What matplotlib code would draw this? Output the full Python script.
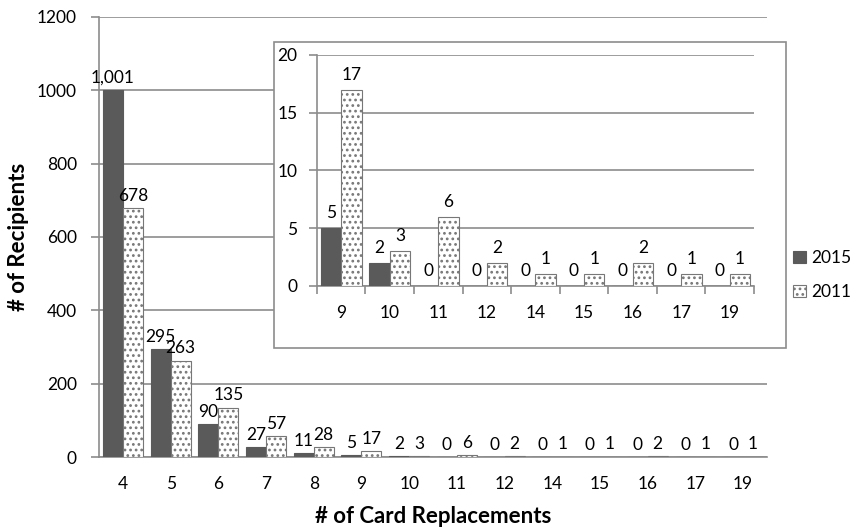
import matplotlib.pyplot as plt
from matplotlib.patches import Rectangle
import numpy as np

plt.rcParams['font.family'] = ['Lato', 'DejaVu Sans']
plt.rcParams['hatch.linewidth'] = 1.2
plt.rcParams['hatch.color'] = '#444444'

categorias = ['4', '5', '6', '7', '8', '9', '10', '11', '12', '14', '15', '16', '17', '19']
v2015 = [1001, 295, 90, 27, 11, 5, 2, 0, 0, 0, 0, 0, 0, 0]
v2011 = [678, 263, 135, 57, 28, 17, 3, 6, 2, 1, 1, 2, 1, 1]

# detalhe: a partir de 9 substituicoes
cat_detalhe = categorias[5:]
d2015 = v2015[5:]
d2011 = v2011[5:]

cinza = '#5a5a5a'
grade = '#8c8c8c'
larg = 0.42
fs = 12.5


def barras(ax, cats, a, b):
    x = np.arange(len(cats))
    b1 = ax.bar(x - larg / 2, a, larg, color=cinza, edgecolor=cinza, linewidth=0.8, label='2015', zorder=3)
    b2 = ax.bar(x + larg / 2, b, larg, color='white', edgecolor='#777777', hatch='...',
                linewidth=0.8, label='2011', zorder=3)
    return x, b1, b2


def eixos(ax, n, pad_y):
    ax.set_xlim(-0.5, n - 0.5)
    ax.yaxis.grid(True, color=grade, linewidth=1.2)
    ax.set_axisbelow(True)
    for s in ['top', 'right']:
        ax.spines[s].set_visible(False)
    for s in ['left', 'bottom']:
        ax.spines[s].set_color(grade)
        ax.spines[s].set_linewidth(1.2)
    ax.tick_params(axis='x', which='major', length=0, labelsize=fs, pad=14)
    ax.tick_params(axis='y', length=6, width=1.2, color=grade, labelsize=fs, pad=pad_y)


fig = plt.figure(figsize=(8.54, 5.29), dpi=100)

# grafico principal
ax = fig.add_axes([0.116, 0.1361, 0.782, 0.8318])
x, b1, b2 = barras(ax, categorias, v2015, v2011)
ax.set_ylim(0, 1200)
ax.set_yticks(range(0, 1201, 200))
ax.set_xticks(x)
ax.set_xticklabels(categorias)
eixos(ax, len(categorias), 10)
ax.set_xlabel('# of Card Replacements', fontsize=16, fontweight='bold', labelpad=10)
ax.set_ylabel('# of Recipients', fontsize=16, fontweight='bold', labelpad=6)
ax.bar_label(b1, labels=[f'{v:,}' for v in v2015], fontsize=fs, padding=3)
ax.bar_label(b2, labels=[f'{v:,}' for v in v2011], fontsize=fs, padding=3)

# moldura do detalhe
fig.patches.append(Rectangle((0.3208, 0.342), 0.5995, 0.578, transform=fig.transFigure,
                             facecolor='white', edgecolor=grade, linewidth=1.2, zorder=1))

axi = fig.add_axes([0.371, 0.4594, 0.512, 0.4367])
axi.set_zorder(2)
xi, c1, c2 = barras(axi, cat_detalhe, d2015, d2011)
axi.set_ylim(0, 20)
axi.set_yticks(range(0, 21, 5))
axi.set_xticks(xi)
axi.set_xticklabels(cat_detalhe)
axi.set_xticks(np.arange(-0.5, len(cat_detalhe)), minor=True)
eixos(axi, len(cat_detalhe), 8)
axi.tick_params(axis='x', which='minor', length=6, width=1.2, color=grade)
axi.bar_label(c1, fontsize=fs, padding=5)
axi.bar_label(c2, fontsize=fs, padding=5)

fig.legend(handles=[b1, b2], labels=['2015', '2011'], loc='center left',
           bbox_to_anchor=(0.929, 0.48), frameon=False, fontsize=fs,
           borderpad=0, borderaxespad=0,
           handlelength=0.7, handleheight=0.7, handletextpad=0.3, labelspacing=1.0)

fig.savefig('out.png', dpi=100)
